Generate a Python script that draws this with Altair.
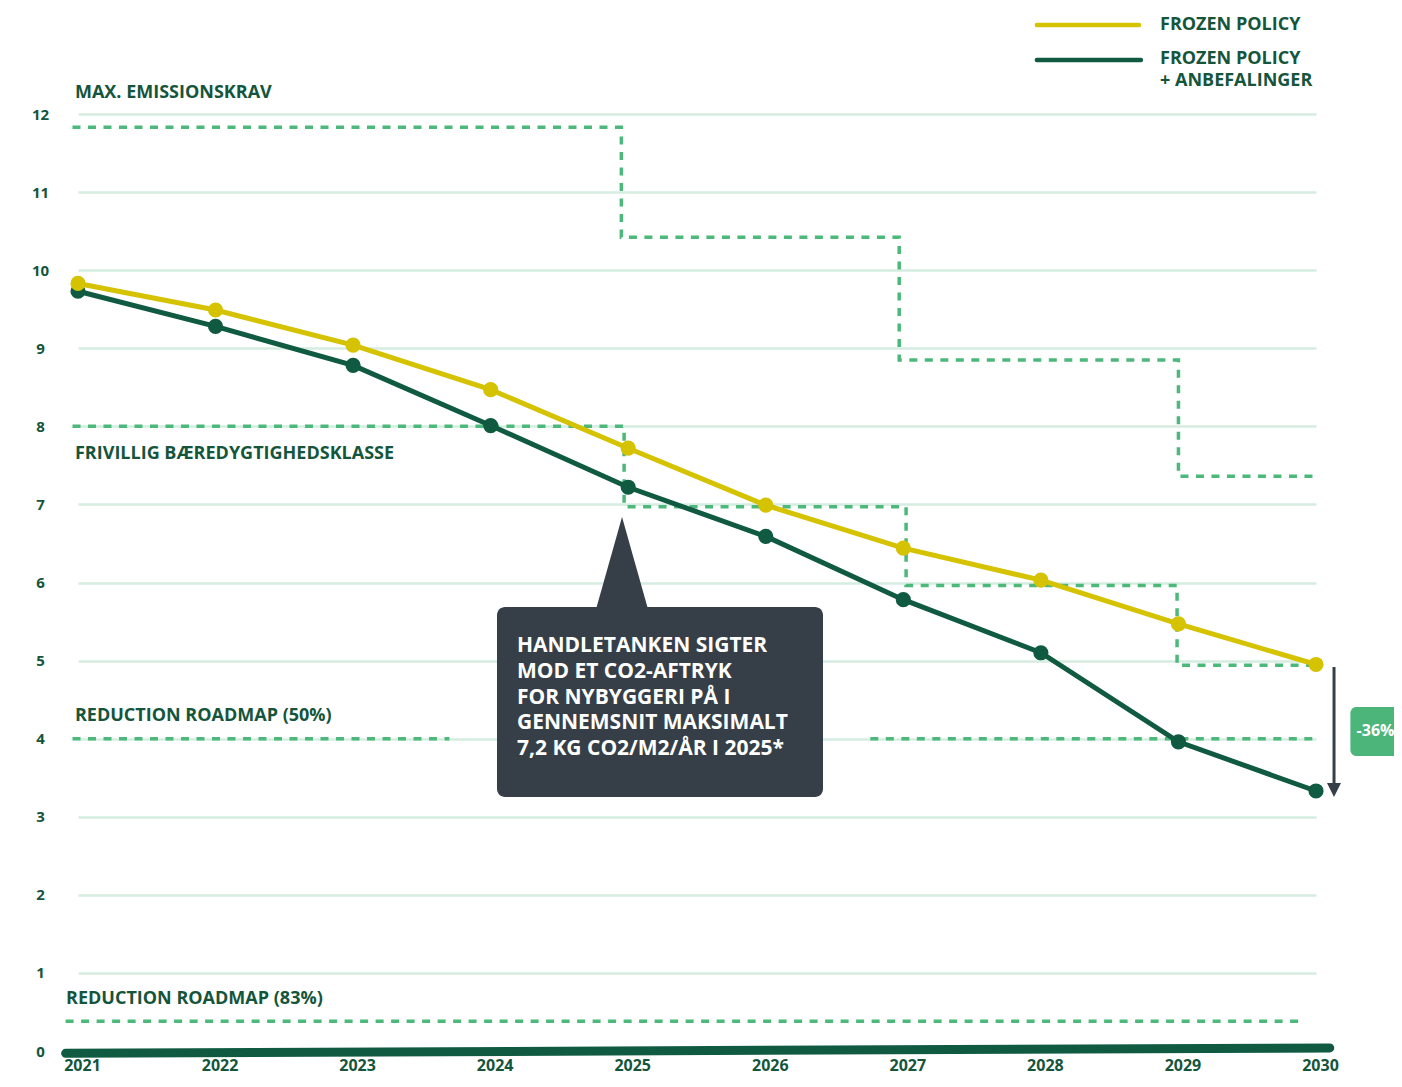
import altair as alt
import pandas as pd

# ---- data ----
years = [2021, 2022, 2023, 2024, 2025, 2026, 2027, 2028, 2029, 2030]
frozen_policy = [9.83, 9.49, 9.04, 8.47, 7.72, 6.99, 6.44, 6.03, 5.47, 4.95]
frozen_anbef = [9.73, 9.28, 8.78, 8.01, 7.22, 6.59, 5.78, 5.10, 3.96, 3.33]

# MAX. EMISSIONSKRAV step line
max_years = [2020.96, 2024.95, 2024.95, 2026.97, 2026.97, 2029.0, 2029.0, 2030.01]
max_vals = [11.83, 11.83, 10.42, 10.42, 8.85, 8.85, 7.36, 7.36]
# FRIVILLIG BÆREDYGTIGHEDSKLASSE step line
friv_years = [2020.96, 2024.97, 2024.97, 2027.02, 2027.02, 2028.99, 2028.99, 2030.0]
friv_vals = [8.0, 8.0, 6.97, 6.97, 5.96, 5.96, 4.94, 4.94]
# REDUCTION ROADMAP (50%) - two segments
r50_years = [2020.96, 2023.70, 2026.76, 2030.0]
r50_vals = [4.0, 4.0, 4.0, 4.0]
r50_seg = ["a", "a", "b", "b"]
# REDUCTION ROADMAP (83%)
r83_years = [2020.91, 2029.88]
r83_vals = [0.38, 0.38]
# zero baseline
zero_years = [2020.91, 2030.10]
zero_vals = [-0.03, 0.04]

series_names = ["FROZEN POLICY", "FROZEN POLICY + ANBEFALINGER"]
legend_labels = ["FROZEN POLICY", "FROZEN POLICY\n+ ANBEFALINGER"]
ref_labels = ["MAX. EMISSIONSKRAV", "FRIVILLIG BÆREDYGTIGHEDSKLASSE",
              "REDUCTION ROADMAP (50%)", "REDUCTION ROADMAP (83%)"]
callout_lines = ["HANDLETANKEN SIGTER", "MOD ET CO2-AFTRYK", "FOR NYBYGGERI PÅ I",
                 "GENNEMSNIT MAKSIMALT", "7,2 KG CO2/M2/ÅR I 2025*"]
reduction_label = "-36%"
y_ticks = list(range(0, 13))

# ---- styles ----
FONT = "Open Sans"
TXT = "#14553c"
YEL = "#d5c200"
DARK = "#0f5a40"
DASH = "#4cb87a"
GRID = "#d5ede1"
BOX = "#363f48"
BADGE = "#4cb57a"

xs = alt.Scale(domain=[2021, 2030], nice=False, zero=False)
ys = alt.Scale(domain=[0, 12], nice=False, zero=False)

x_axis = alt.Axis(values=years, format="d", grid=False, domain=False, ticks=False, tickSize=0,
                  labelFlush=False, labelPadding=6, labelOffset=4, labelFont=FONT,
                  labelFontSize=16, labelFontWeight="bold", labelColor=TXT, title=None)
y_axis = alt.Axis(values=y_ticks, grid=True, gridColor=GRID, gridWidth=2.5, domain=False,
                  ticks=False, tickSize=0, labelFlush=False, labelPadding=38,
                  labelAlign="center", labelBaseline="middle", labelFont=FONT,
                  labelFontSize=15, labelFontWeight="bold", labelColor=TXT, title=None)


def X(f):
    return alt.X(f, type="quantitative", scale=xs, axis=x_axis)


def Y(f):
    return alt.Y(f, type="quantitative", scale=ys, axis=y_axis)


def XD(v):
    return alt.XDatum(v, type="quantitative", scale=xs, axis=x_axis)


def YD(v):
    return alt.YDatum(v, type="quantitative", scale=ys, axis=y_axis)


one = pd.DataFrame({"k": [0]})

df_dark = pd.DataFrame({"year": years, "value": frozen_anbef, "s": series_names[1]})
df_yel = pd.DataFrame({"year": years, "value": frozen_policy, "s": series_names[0]})


def step_df(xv, yv, seg=None):
    d = pd.DataFrame({"x": xv, "y": yv, "i": list(range(len(xv)))})
    d["seg"] = seg if seg is not None else "a"
    return d


dash_kw = dict(strokeDash=[8, 7.5], strokeWidth=3.5, color=DASH)
max_line = alt.Chart(step_df(max_years, max_vals)).mark_line(**dash_kw).encode(
    x=X("x"), y=Y("y"), order="i:Q")
friv_line = alt.Chart(step_df(friv_years, friv_vals)).mark_line(**dash_kw).encode(
    x=X("x"), y=Y("y"), order="i:Q")
r50_line = alt.Chart(step_df(r50_years, r50_vals, r50_seg)).mark_line(**dash_kw).encode(
    x=X("x"), y=Y("y"), order="i:Q", detail="seg:N")
r83_line = alt.Chart(step_df(r83_years, r83_vals)).mark_line(**dash_kw).encode(
    x=X("x"), y=Y("y"), order="i:Q")

zero_line = alt.Chart(pd.DataFrame({"x": zero_years, "y": zero_vals})).mark_line(
    strokeWidth=9, strokeCap="round", color=DARK).encode(x=X("x"), y=Y("y"))

dark_line = alt.Chart(df_dark).mark_line(strokeWidth=5, color=DARK).encode(
    x=X("year"), y=Y("value"))
dark_pts = alt.Chart(df_dark).mark_circle(size=230, opacity=1, color=DARK).encode(
    x=X("year"), y=Y("value"))
yel_line = alt.Chart(df_yel).mark_line(strokeWidth=5, color=YEL).encode(
    x=X("year"), y=Y("value"))
yel_pts = alt.Chart(df_yel).mark_circle(size=230, opacity=1, color=YEL).encode(
    x=X("year"), y=Y("value"))

# reference-line labels
lab_kw = dict(align="left", baseline="middle", font=FONT, fontSize=18, fontWeight="bold", color=TXT)
lab_pos = [(2020.978, 12.27), (2020.978, 7.646), (2020.978, 4.29), (2020.913, 0.666)]
labels = []
for txt, (lx, ly) in zip(ref_labels, lab_pos):
    labels.append(alt.Chart(pd.DataFrame({"t": [txt]})).mark_text(**lab_kw).encode(
        x=XD(lx), y=YD(ly), text="t:N"))

# callout box
box = alt.Chart(one).mark_rect(cornerRadius=8, color=BOX).encode(
    x=XD(2024.046), x2=alt.X2Datum(2026.416), y=YD(5.686), y2=alt.Y2Datum(3.253))
pointer = alt.Chart(one).mark_point(shape="M -0.564 1 L 0.564 1 L 0 -1 Z", size=8836,
                                    filled=True, opacity=1, color=BOX, strokeWidth=0).encode(
    x=XD(2024.955), y=YD(6.237))
callout_text = alt.Chart(pd.DataFrame({"t": ["\n".join(callout_lines)]})).mark_text(
    align="left", baseline="middle", lineBreak="\n", lineHeight=25.8, font=FONT,
    fontSize=21, fontWeight="bold", color="white").encode(
    x=XD(2024.191), y=YD(5.187), text="t:N")

# reduction arrow and badge
arrow = alt.Chart(one).mark_rule(strokeWidth=3, color=BOX).encode(
    x=XD(2030.131), y=YD(4.918), y2=alt.Y2Datum(3.40))
arrow_head = alt.Chart(one).mark_point(shape="M -1 -1 L 1 -1 L 0 1 Z", size=196, filled=True,
                                       opacity=1, color=BOX, strokeWidth=0).encode(
    x=XD(2030.131), y=YD(3.343))
badge = alt.Chart(one).mark_rect(cornerRadius=6, color=BADGE).encode(
    x=XD(2030.25), x2=alt.X2Datum(2030.95), y=YD(4.406), y2=alt.Y2Datum(3.778))
badge_text = alt.Chart(pd.DataFrame({"t": [reduction_label]})).mark_text(
    align="left", baseline="middle", font=FONT, fontSize=16, fontWeight="bold",
    color="white").encode(x=XD(2030.295), y=YD(4.098), text="t:N")

# legend (drawn manually)
leg_yel = alt.Chart(one).mark_rule(strokeWidth=4.5, strokeCap="round", color=YEL).encode(
    x=XD(2027.971), x2=alt.X2Datum(2028.713), y=YD(13.14))
leg_dark = alt.Chart(one).mark_rule(strokeWidth=4.5, strokeCap="round", color=DARK).encode(
    x=XD(2027.971), x2=alt.X2Datum(2028.727), y=YD(12.692))
leg_t1 = alt.Chart(pd.DataFrame({"t": [legend_labels[0]]})).mark_text(**lab_kw).encode(
    x=XD(2028.866), y=YD(13.14), text="t:N")
leg_t2 = alt.Chart(pd.DataFrame({"t": [legend_labels[1]]})).mark_text(
    lineBreak="\n", lineHeight=22, **lab_kw).encode(
    x=XD(2028.866), y=YD(12.705), text="t:N")

chart = alt.layer(
    max_line, friv_line, r50_line, r83_line, zero_line,
    *labels, box, pointer, callout_text,
    dark_line, dark_pts, yel_line, yel_pts,
    arrow, arrow_head, badge, badge_text,
    leg_yel, leg_dark, leg_t1, leg_t2,
).properties(
    width=1238, height=937,
    autosize=alt.AutoSizeParams(type="none"),
    padding={"left": 70, "top": 106, "right": 78, "bottom": 28},
    background="white",
).configure_view(stroke=None)

chart.save("out.html", embed_options={"renderer": "svg", "actions": False})
